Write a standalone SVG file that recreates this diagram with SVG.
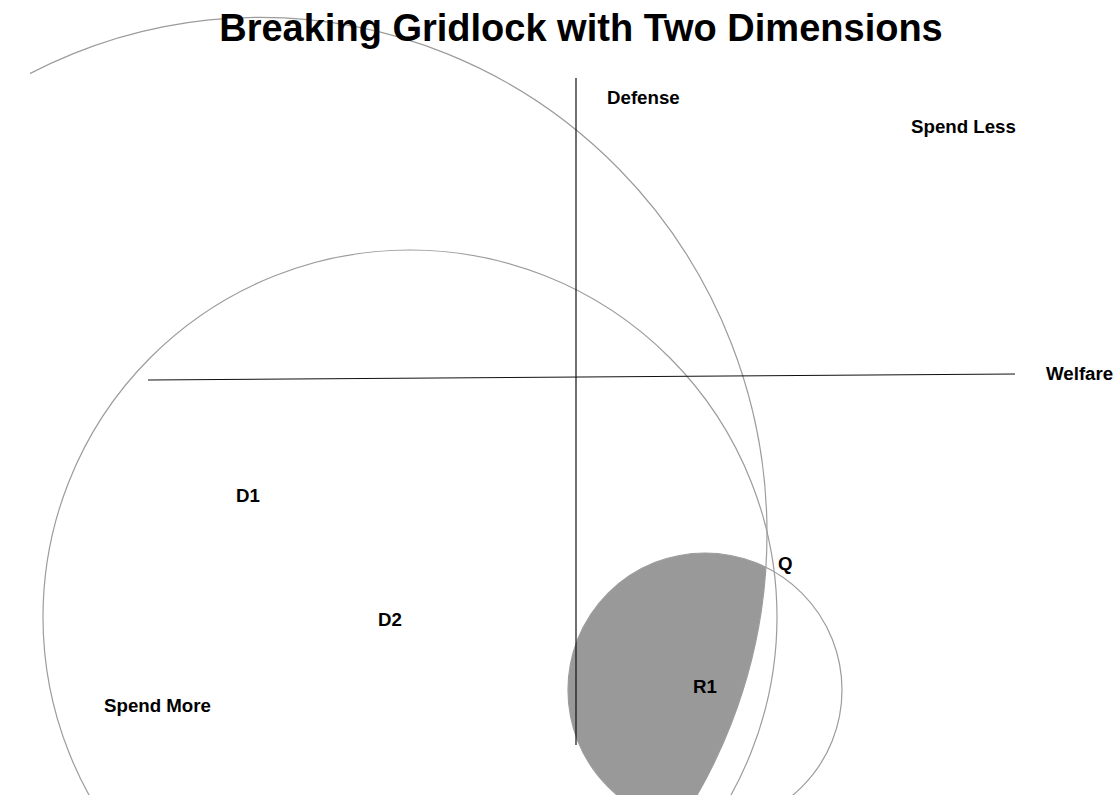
<svg xmlns="http://www.w3.org/2000/svg" width="1117" height="795" viewBox="0 0 1117 795">
  <style>
    .ring { fill: none; stroke: #9c9c9c; stroke-width: 1.2; }
    .axis { stroke: #111; stroke-width: 1.2; fill: none; }
    .lbl { font-family: "Liberation Sans", Arial, sans-serif; font-weight: bold; font-size: 18.7px; fill: #000; }
    .title { font-family: "Liberation Sans", Arial, sans-serif; font-weight: bold; font-size: 38px; fill: #000; }
  </style>
  <defs>
    <clipPath id="c1clip">
      <ellipse cx="260" cy="533.4" rx="507" ry="516"/>
    </clipPath>
    <clipPath id="pageclip">
      <rect x="30" y="0" width="1087" height="795"/>
    </clipPath>
  </defs>
  <rect width="1117" height="795" fill="#fff"/>

  <g id="winset-r1">
    <circle cx="705" cy="690" r="137" fill="#999999" clip-path="url(#c1clip)"/>
  </g>

  <g id="circle-d1" clip-path="url(#pageclip)">
    <ellipse class="ring" cx="260" cy="533.4" rx="507" ry="516"/>
  </g>
  <g id="circle-d2">
    <circle class="ring" cx="410" cy="617" r="367"/>
  </g>
  <g id="circle-r1">
    <circle class="ring" cx="705" cy="690" r="137"/>
  </g>

  <g id="connectors">
    <line class="axis" x1="576" y1="78" x2="576" y2="745"/>
    <line class="axis" x1="148" y1="380" x2="1015" y2="374"/>
  </g>

  <g id="title">
    <text class="title" x="581" y="41" text-anchor="middle">Breaking Gridlock with Two Dimensions</text>
  </g>
  <g id="label-defense"><text class="lbl" x="607" y="104">Defense</text></g>
  <g id="label-spend-less"><text class="lbl" x="911" y="133">Spend Less</text></g>
  <g id="label-welfare"><text class="lbl" x="1046" y="380">Welfare</text></g>
  <g id="label-d1"><text class="lbl" x="236" y="502">D1</text></g>
  <g id="label-d2"><text class="lbl" x="378" y="626">D2</text></g>
  <g id="label-spend-more"><text class="lbl" x="104" y="712">Spend More</text></g>
  <g id="label-q"><text class="lbl" x="778" y="570">Q</text></g>
  <g id="label-r1"><text class="lbl" x="693" y="693">R1</text></g>
</svg>
